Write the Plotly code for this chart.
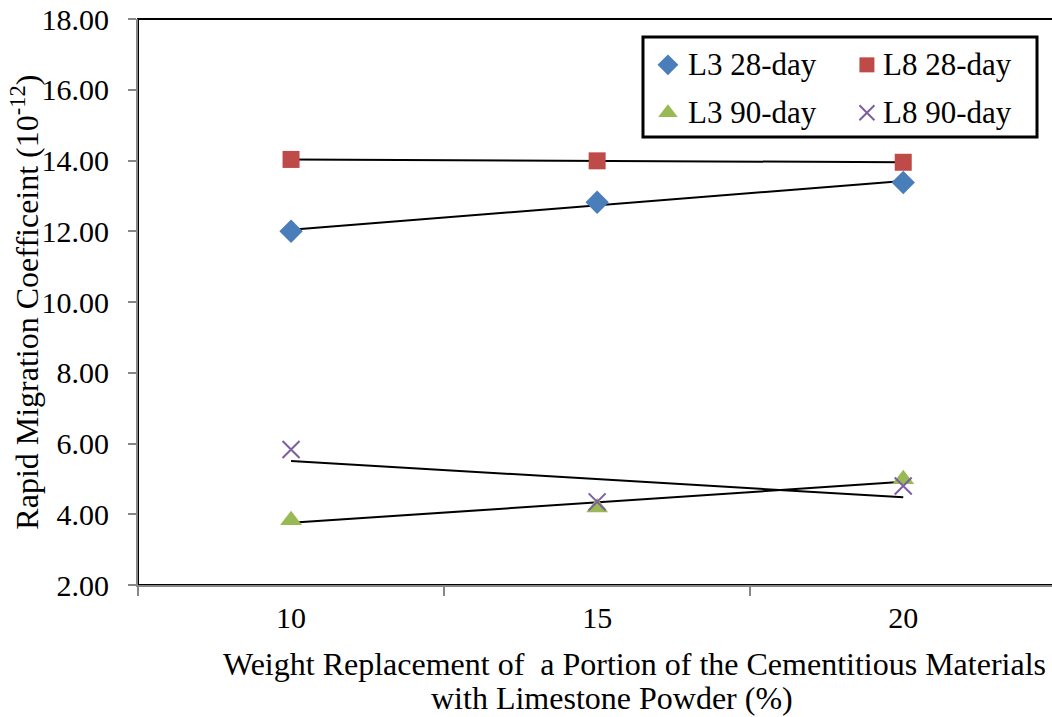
import numpy as np
import plotly.graph_objects as go

# Limestone replacement levels (%)
replacement = [10, 15, 20]

# Rapid migration coefficients (x 10^-12)
l3_28 = [12.00, 12.82, 13.38]
l8_28 = [14.03, 13.99, 13.95]
l3_90 = [3.83, 4.19, 4.99]
l8_90 = [5.83, 4.35, 4.80]

y_ticks = [2, 4, 6, 8, 10, 12, 14, 16, 18]
x_ticks = [10, 15, 20]

FONT = "Liberation Serif, Times New Roman, serif"
TICK_FS = 30
LEG_FS = 31
TITLE_FS = 32

series = [
    ("L3 28-day", l3_28, dict(symbol="diamond", size=18, color="#4A7EBB")),
    ("L8 28-day", l8_28, dict(symbol="square", size=17, color="#BE4B48")),
    ("L3 90-day", l3_90, dict(symbol="triangle-up", size=19, color="#98B954")),
    ("L8 90-day", l8_90, dict(symbol="x-thin-open", size=17, color="#7D5FA0",
                              line=dict(width=2, color="#7D5FA0"))),
]

fig = go.Figure()

# Linear trendline for each series (least-squares fit)
x_arr = np.array(replacement, dtype=float)
for name, vals, mk in series:
    slope, intercept = np.polyfit(x_arr, np.array(vals), 1)
    xs = [x_arr.min(), x_arr.max()]
    fig.add_trace(go.Scatter(
        x=xs, y=[slope * v + intercept for v in xs], mode="lines",
        line=dict(color="black", width=2), showlegend=False, hoverinfo="skip"))

for name, vals, mk in series:
    fig.add_trace(go.Scatter(x=replacement, y=vals, mode="markers", name=name,
                             marker=mk, showlegend=False))

fig.update_layout(
    width=1052, height=717,
    margin=dict(l=138, r=0, t=19, b=132),
    paper_bgcolor="white", plot_bgcolor="white",
    font=dict(family=FONT, size=TICK_FS, color="black"),
    showlegend=False,
    xaxis=dict(
        range=[7.5, 22.43], tickmode="array", tickvals=x_ticks,
        ticktext=[str(v) for v in x_ticks], ticks="",
        ticklabelstandoff=5,
        minor=dict(tickvals=[7.5, 12.5, 17.5, 22.5], ticks="outside", ticklen=9,
                   tickcolor="#878787", tickwidth=2),
        showline=True, linecolor="#878787", linewidth=2,
        showgrid=False, zeroline=False,
    ),
    yaxis=dict(
        range=[2, 18], tickmode="array", tickvals=y_ticks,
        ticktext=[f"{v:.2f}" for v in y_ticks],
        ticks="outside", ticklen=8, tickcolor="#878787", tickwidth=2,
        ticklabelstandoff=13,
        showline=True, linecolor="#878787", linewidth=2,
        showgrid=False, zeroline=False,
    ),
    # Overlay unit axes used to place the legend keys in plot-area fractions
    xaxis2=dict(overlaying="x", range=[0, 1], visible=False),
    yaxis2=dict(overlaying="y", range=[0, 1], visible=False),
)

# Plot-area border
fig.add_shape(type="rect", xref="paper", yref="paper", x0=0, x1=1.01, y0=0, y1=1,
              line=dict(color="black", width=2), layer="below")

# Legend: boxed, two columns by two rows
leg_x0, leg_x1, leg_y0, leg_y1 = 0.5525, 0.9836, 0.7915, 0.9682
fig.add_shape(type="rect", xref="paper", yref="paper",
              x0=leg_x0, x1=leg_x1, y0=leg_y0, y1=leg_y1,
              line=dict(color="black", width=3), fillcolor="white", layer="below")
key_cols = [0.5798, 0.7975]
text_cols = [0.5995, 0.8125]
key_rows = [0.9190, 0.8345]
leg_marker_scale = 0.9
for i, (name, vals, mk) in enumerate(series):
    r, c = divmod(i, 2)
    key_mk = dict(mk, size=round(mk["size"] * leg_marker_scale))
    fig.add_trace(go.Scatter(x=[key_cols[c]], y=[key_rows[r]], xaxis="x2", yaxis="y2",
                             mode="markers", marker=key_mk, showlegend=False,
                             hoverinfo="skip"))
    fig.add_annotation(text=name, xref="paper", yref="paper", x=text_cols[c],
                       y=key_rows[r], xanchor="left", yanchor="middle",
                       showarrow=False, font=dict(family=FONT, size=LEG_FS))

# Axis titles
fig.add_annotation(text="Rapid Migration Coefficeint (10<sup>-12</sup>)",
                   xref="paper", yref="paper", x=-0.124, y=0.5, textangle=-90,
                   showarrow=False, xanchor="center", yanchor="middle",
                   font=dict(family=FONT, size=TITLE_FS))
fig.add_annotation(text="Weight Replacement of \u00a0a Portion of the Cementitious Materials",
                   xref="paper", yref="paper", x=0.5427, y=-0.1396,
                   showarrow=False, xanchor="center", yanchor="middle",
                   font=dict(family=FONT, size=TITLE_FS))
fig.add_annotation(text="with Limestone Powder (%)",
                   xref="paper", yref="paper", x=0.5186, y=-0.200,
                   showarrow=False, xanchor="center", yanchor="middle",
                   font=dict(family=FONT, size=TITLE_FS))

fig.write_html("out.html")
